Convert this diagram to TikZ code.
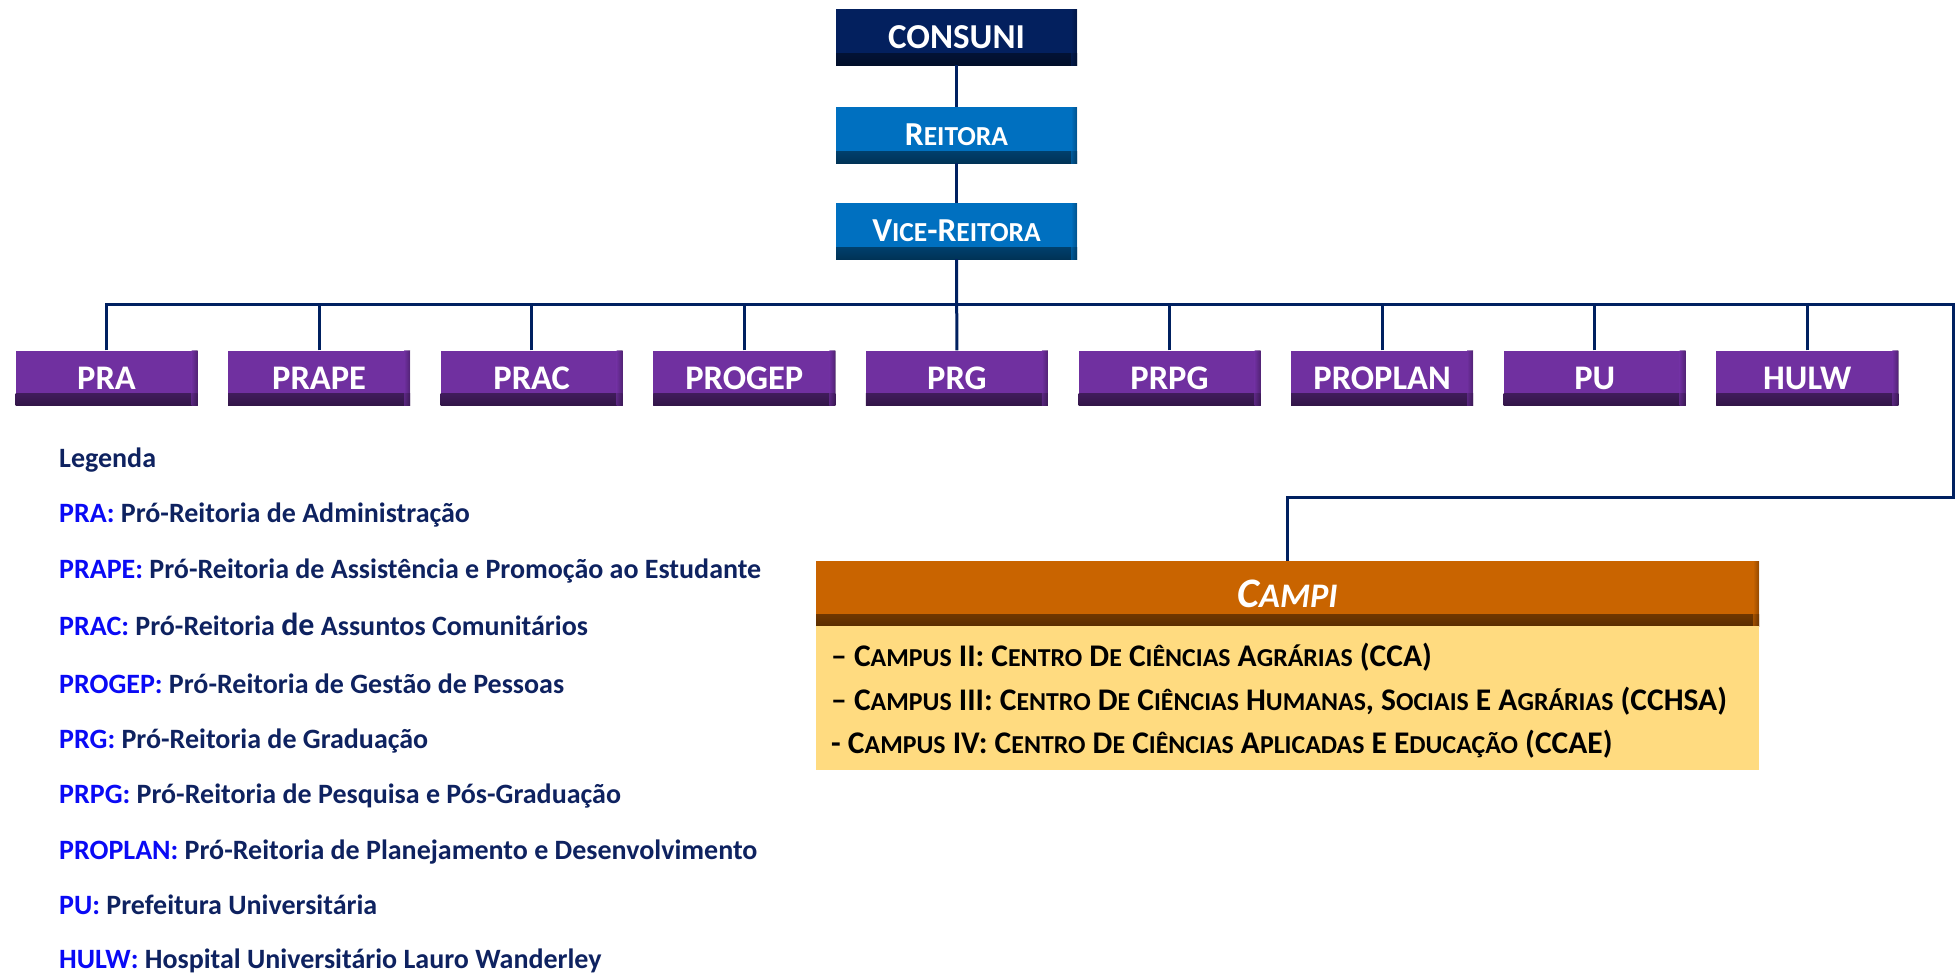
\documentclass[tikz,border=0pt]{standalone}
\usepackage{fontspec}
\setmainfont{Carlito}
\usepackage{graphicx}
\definecolor{navy}{HTML}{002060}
\definecolor{consunic}{HTML}{03205E}
\definecolor{rblue}{HTML}{0070C0}
\definecolor{purp}{HTML}{7030A0}
\definecolor{campih}{HTML}{C96400}
\definecolor{campib}{HTML}{FFDB80}
\definecolor{legblue}{HTML}{0A0AF5}
\definecolor{legtext}{HTML}{0E2260}
\newcommand{\sk}[1]{{\fontsize{0.82\dimexpr\fontdimen6\font\relax}{0pt}\selectfont #1}}
\begin{document}
\begin{tikzpicture}[x=1pt,y=-1pt,
  wire/.style={draw=navy, line width=3pt},
  obox/.style={fill=#1, inner sep=0pt, text=white,
    path picture={
      \shade[top color=#1, bottom color=#1!45!black]
        ([yshift=12pt]path picture bounding box.south west) rectangle (path picture bounding box.south east);
      \shade[left color=#1, right color=#1!55!black, opacity=.6]
        ([xshift=-6pt]path picture bounding box.north east) rectangle (path picture bounding box.south east);
    }},
  topbox/.style={obox=#1, minimum width=241pt, minimum height=56pt, font=\fontsize{33.5}{36}\selectfont\bfseries},
  pbox/.style={obox=purp, minimum width=182pt, minimum height=55pt, font=\fontsize{34.5}{37}\selectfont\bfseries},
  leg/.style={anchor=base west, inner sep=0pt, text=legtext, font=\fontsize{28}{32}\selectfont\bfseries},
  ctext/.style={anchor=base west, inner sep=0pt, text=black, font=\fontsize{31.5}{34}\selectfont\bfseries},
]
\path[use as bounding box] (0,0) rectangle (1957,975);

% top chain
\node[topbox=consunic, font=\fontsize{35}{38}\selectfont\bfseries] (consuni) at (956.5,37) {CONSUNI};
\node[topbox=rblue] (reitora) at (956.5,135) {R\sk{EITORA}};
\node[topbox=rblue] (vice) at (956.5,231) {V\sk{ICE}-R\sk{EITORA}};

% purple boxes
\node[pbox] (pra)     at (106.5,378) {PRA};
\node[pbox] (prape)   at (319.1,378) {PRAPE};
\node[pbox] (prac)    at (531.7,378) {PRAC};
\node[pbox] (progep)  at (744.3,378) {PROGEP};
\node[pbox] (prg)     at (956.9,378) {PRG};
\node[pbox] (prpg)    at (1169.5,378) {PRPG};
\node[pbox] (proplan) at (1382.1,378) {PROPLAN};
\node[pbox] (pu)      at (1594.7,378) {PU};
\node[pbox] (hulw)    at (1807.3,378) {HULW};

% campi
\node[obox=campih, minimum width=943pt, minimum height=65pt,
      font=\fontsize{42}{46}\selectfont\bfseries\itshape] (campi) at (1287.5,593.5) {C\sk{AMPI}};
\node[fill=campib, minimum width=943pt, minimum height=144pt, inner sep=0pt, anchor=north] (campibody) at (campi.south) {};
\node[ctext] (c1) at (831,666) {– C\sk{AMPUS} II: C\sk{ENTRO} D\sk{E} C\sk{IÊNCIAS} A\sk{GRÁRIAS} (CCA)};
\node[ctext] (c2) at (831,710) {– C\sk{AMPUS} III: C\sk{ENTRO} D\sk{E} C\sk{IÊNCIAS} H\sk{UMANAS}, S\sk{OCIAIS} E A\sk{GRÁRIAS} (CCHSA)};
\node[ctext] (c3) at (831,753) {- C\sk{AMPUS} IV: C\sk{ENTRO} D\sk{E} C\sk{IÊNCIAS} A\sk{PLICADAS} E E\sk{DUCAÇÃO} (CCAE)};

% connectors
\coordinate (busR) at (1953,304);
\coordinate (turn) at (1287.5,497);
\draw[wire] (consuni.south) -- (reitora.north);
\draw[wire] (reitora.south) -- (vice.north);
\draw[wire] (vice.south) -- (prg.north);
\draw[wire] (pra.north) |- (busR) |- (turn) -- (campi.north);
\foreach \n in {prape,prac,progep,prpg,proplan,pu,hulw}
  \draw[wire] (\n.north) -- (\n.north |- busR);

% legend
\node[leg] (l0) at (59,467) {Legenda};
\node[leg] (l1) at (59,522) {\textcolor{legblue}{PRA:} Pró-Reitoria de Administração};
\node[leg] (l2) at (59,578) {\textcolor{legblue}{PRAPE:} Pró-Reitoria de Assistência e Promoção ao Estudante};
\node[leg] (l3) at (59,635) {\textcolor{legblue}{PRAC:} Pró-Reitoria {\fontsize{32}{34}\selectfont de} Assuntos Comunitários};
\node[leg] (l4) at (59,693) {\textcolor{legblue}{PROGEP:} Pró-Reitoria de Gestão de Pessoas};
\node[leg] (l5) at (59,748) {\textcolor{legblue}{PRG:} Pró-Reitoria de Graduação};
\node[leg] (l6) at (59,803) {\textcolor{legblue}{PRPG:} Pró-Reitoria de Pesquisa e Pós-Graduação};
\node[leg] (l7) at (59,859) {\textcolor{legblue}{PROPLAN:} Pró-Reitoria de Planejamento e Desenvolvimento};
\node[leg] (l8) at (59,914) {\textcolor{legblue}{PU:} Prefeitura Universitária};
\node[leg] (l9) at (59,968) {\textcolor{legblue}{HULW:} Hospital Universitário Lauro Wanderley};
\end{tikzpicture}
\end{document}
